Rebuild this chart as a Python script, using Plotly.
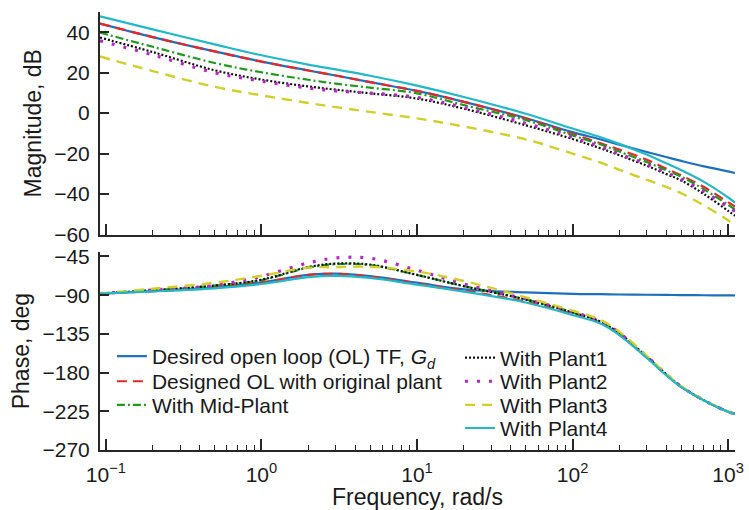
import plotly.graph_objects as go

# ---------------- data ----------------
freq = [0.0916, 0.2, 0.5, 1, 2, 3, 5, 10, 20, 50, 100, 150, 200, 300, 400, 500, 700, 1000, 1108]

mag_desired  = [44.3, 37.6, 30.5, 25.5, 21.1, 18.6, 15.3, 11.0, 5.6, -2.4, -9.4, -12.9, -15.6, -19.2, -21.7, -23.6, -26.3, -28.8, -29.6]
mag_designed = [44.3, 37.6, 30.5, 25.5, 21.1, 18.6, 15.3, 11.0, 5.6, -2.7, -10.3, -14.8, -18.0, -23.0, -27.4, -30.8, -36.5, -44.0, -46.2]
mag_mid      = [39.8, 32.8, 24.8, 20.2, 16.5, 14.6, 12.6, 9.8, 4.0, -3.4, -11.0, -15.4, -19.0, -24.2, -28.2, -31.4, -37.7, -45.3, -47.6]
mag_plant1   = [37.4, 30.2, 21.2, 16.6, 13.2, 11.6, 9.8, 7.2, 2.2, -6.0, -12.8, -17.3, -20.8, -26.0, -30.1, -33.3, -40.0, -48.3, -50.8]
mag_plant2   = [35.8, 28.8, 20.0, 15.8, 12.4, 11.0, 9.9, 7.8, 2.8, -5.0, -12.0, -16.5, -20.2, -25.3, -29.4, -32.6, -38.8, -46.4, -48.5]
mag_plant3   = [28.0, 20.8, 13.0, 8.8, 5.0, 3.0, 0.6, -2.6, -6.6, -13.0, -20.0, -24.4, -28.0, -33.0, -36.5, -39.6, -45.6, -53.0, -55.7]
mag_plant4   = [47.9, 41.4, 34.0, 28.6, 24.0, 21.6, 18.5, 13.6, 8.0, -0.3, -7.6, -11.8, -15.2, -20.5, -24.8, -28.2, -34.0, -41.7, -44.3]

ph_desired  = [-88.1, -85.2, -81.0, -75.0, -66.5, -65.0, -67.8, -75.5, -83.2, -86.8, -88.5, -88.9, -89.2, -89.5, -89.7, -89.9, -90.1, -90.3, -90.3]
ph_designed = [-88.1, -85.3, -81.2, -75.5, -66.4, -65.2, -68.5, -76.5, -84.5, -97.5, -112.0, -122.0, -136.0, -162.5, -182.5, -196.5, -212.3, -225.5, -228.0]
ph_mid      = [-88.1, -84.5, -79.0, -72.5, -58.0, -54.0, -55.0, -66.5, -79.5, -95.0, -110.0, -120.5, -134.5, -161.5, -182.0, -196.5, -212.3, -225.5, -228.0]
ph_plant1   = [-88.1, -84.3, -78.8, -72.0, -57.3, -53.3, -54.5, -66.4, -79.5, -95.0, -110.0, -120.5, -134.5, -161.5, -182.0, -196.5, -212.3, -225.5, -228.0]
ph_plant2   = [-88.1, -84.0, -78.5, -68.0, -52.5, -46.8, -47.0, -61.0, -77.0, -94.5, -109.5, -120.0, -134.0, -161.0, -181.8, -196.3, -212.2, -225.5, -228.0]
ph_plant3   = [-88.1, -82.5, -75.5, -67.5, -58.0, -57.5, -57.0, -62.5, -73.5, -92.5, -108.0, -118.5, -132.5, -160.5, -181.5, -196.0, -212.0, -225.5, -228.0]
ph_plant4   = [-88.1, -85.7, -82.0, -77.0, -69.0, -67.5, -70.0, -77.8, -85.8, -98.5, -113.0, -122.7, -136.4, -163.0, -183.0, -197.0, -212.5, -225.5, -228.0]

names = [
    "Desired open loop (OL) TF, <i>G</i><sub><i>d</i></sub>",
    "Designed OL with original plant",
    "With Mid-Plant",
    "With Plant1",
    "With Plant2",
    "With Plant3",
    "With Plant4",
]
mags = [mag_desired, mag_designed, mag_mid, mag_plant1, mag_plant2, mag_plant3, mag_plant4]
phases = [ph_desired, ph_designed, ph_mid, ph_plant1, ph_plant2, ph_plant3, ph_plant4]

mag_ticks = [-60, -40, -20, 0, 20, 40]
ph_ticks = [-270, -225, -180, -135, -90, -45]
x_ticks = [0.1, 1, 10, 100, 1000]
x_ticktext = ["10<sup>\u22121</sup>", "10<sup>0</sup>", "10<sup>1</sup>", "10<sup>2</sup>", "10<sup>3</sup>"]

# ---------------- styles ----------------
styles = [
    dict(color="#1f6fbf", width=2.2, dash="solid"),
    dict(color="#e8262a", width=2.2, dash="10px,6px"),
    dict(color="#1e9a1e", width=2.2, dash="8px,3px,2px,3px"),
    dict(color="#111111", width=2.2, dash="2px,2px"),
    dict(color="#b526c4", width=3.2, dash="3px,9px"),
    dict(color="#d2cf2a", width=2.4, dash="10px,7px"),
    dict(color="#22b8c6", width=2.2, dash="solid"),
]

FONT = "Liberation Sans, Arial, Helvetica, sans-serif"

# legend placement (one legend per entry, two columns)
leg_x = [0.01875, 0.01875, 0.01875, 0.567, 0.567, 0.567, 0.567]
leg_rows_px = [355.0, 380.5, 404.5, 356.5, 380.5, 404.5, 428.0]
leg_ids = ["legend", "legend2", "legend3", "legend4", "legend5", "legend6", "legend7"]

fig = go.Figure()
for i in range(7):
    fig.add_trace(go.Scatter(
        x=freq, y=mags[i], mode="lines", name=names[i], line=dict(**styles[i], shape="spline"),
        xaxis="x", yaxis="y", showlegend=False, legendgroup=str(i)))
for i in range(7):
    fig.add_trace(go.Scatter(
        x=freq, y=phases[i], mode="lines", name=names[i], line=dict(**styles[i], shape="spline"),
        xaxis="x2", yaxis="y2", showlegend=True, legendgroup=str(i), legend=leg_ids[i]))

minor_vals = [m * 10 ** k for k in range(-1, 3) for m in range(2, 10)]

axis_common = dict(showline=True, linecolor="#262626", linewidth=2, showgrid=False, zeroline=False,
                   ticks="inside", tickcolor="#262626", tickwidth=1.5,
                   tickfont=dict(family=FONT, size=21, color="#1a1a1a"))
xlog = dict(type="log", range=[-1.038, 3.0445], tickvals=x_ticks, ticklen=11,
            minor=dict(ticks="inside", ticklen=5, tickvals=minor_vals, tickcolor="#262626", tickwidth=1.2))

TITLE_FONT = dict(family=FONT, size=23, color="#1a1a1a")

layout = dict(
    width=749, height=510,
    margin=dict(l=100, r=9, t=5, b=60),
    paper_bgcolor="white", plot_bgcolor="white",
    font=dict(family=FONT, color="#1a1a1a"),
    xaxis=dict(**axis_common, **xlog, domain=[0, 1], anchor="y", showticklabels=False),
    yaxis=dict(**axis_common, domain=[0.492, 1], range=[-60, 50], tickvals=mag_ticks, ticklen=9,
               ticklabelstandoff=4,
               title=dict(text="Magnitude, dB", font=TITLE_FONT, standoff=6)),
    xaxis2=dict(**axis_common, **xlog, domain=[0, 1], anchor="y2", ticktext=x_ticktext,
                ticklabelstandoff=5,
                title=dict(text="Frequency, rad/s", font=TITLE_FONT, standoff=3)),
    yaxis2=dict(**axis_common, domain=[0, 0.4517], range=[-270, -40], tickvals=ph_ticks, ticklen=9,
                ticklabelstandoff=4,
                title=dict(text="Phase, deg", font=TITLE_FONT, standoff=6)),
)
for i in range(7):
    layout[leg_ids[i]] = dict(
        x=leg_x[i], y=(450 - leg_rows_px[i]) / 445, xanchor="left", yanchor="middle",
        bgcolor="rgba(0,0,0,0)", font=dict(family=FONT, size=21, color="#1a1a1a"),
        itemwidth=30)
fig.update_layout(**layout)

fig.write_html("out.html")
